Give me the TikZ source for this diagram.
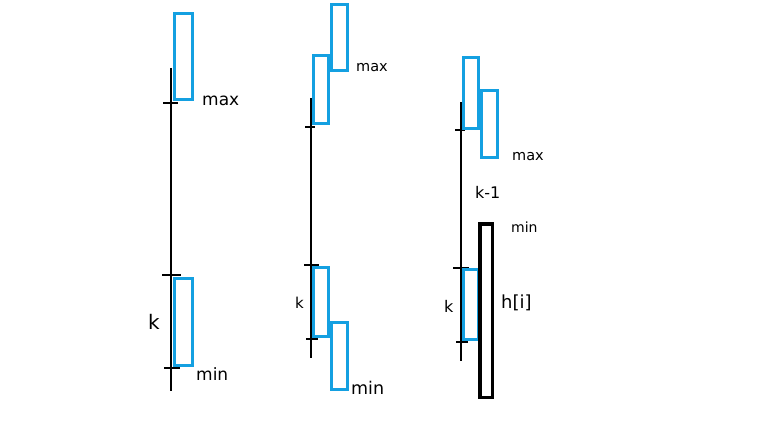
\documentclass[tikz,border=0pt]{standalone}
\usepackage{fontspec}
\setmainfont{DejaVu Sans}
\usetikzlibrary{positioning}
\definecolor{barblue}{RGB}{20,160,225}

\begin{document}
\begin{tikzpicture}[
    x=1pt, y=-1pt,
    axis/.style={draw=black, line width=2pt},
    tick/.style={draw=black, line width=2.8pt},
    bar/.style={draw=barblue, line width=3pt},
    hbar/.style={draw=black, line width=3.2pt},
    lbl/.style={inner sep=0pt, anchor=west},
    ]
\useasboundingbox (0,0) rectangle (768,430);

% first column
\draw[axis, line width=2.8pt] (171,68) -- (171,391);
\draw[tick] (163,103) -- (178,103);
\draw[tick] (162,275) -- (181,275);
\draw[tick] (164,368) -- (180,368);
\draw[bar] (174.5,14) rectangle (192,100);
\draw[bar] (174.5,279) rectangle (192,365);
\node[lbl, font=\fontsize{17}{17}\selectfont] (max1) at (202,101) {max};
\node[lbl, font=\fontsize{20}{20}\selectfont] (k1) at (148,322) {k};
\node[lbl, font=\fontsize{17}{17}\selectfont] (min1) at (196,374) {min};

% second column
\draw[axis] (310.7,98) -- (310.7,358);
\draw[tick] (305,127) -- (315,127);
\draw[tick] (304,265) -- (319,265);
\draw[tick] (306,339) -- (318,339);
\draw[bar] (313.5,56) rectangle (328.5,124);
\draw[bar] (331.5,4.5) rectangle (347.5,71);
\draw[bar] (313.5,267.5) rectangle (328.5,336);
\draw[bar] (331.5,322.5) rectangle (347.5,389);
\node[lbl, font=\fontsize{14.5}{14.5}\selectfont] (max2) at (356,68) {max};
\node[lbl, font=\fontsize{15}{15}\selectfont] (k2) at (295,303) {k};
\node[lbl, font=\fontsize{17.5}{17.5}\selectfont] (min2) at (351,388) {min};

% third column
\draw[axis] (460.7,102) -- (460.7,361);
\draw[tick] (455,130) -- (465,130);
\draw[tick] (453,268) -- (469,268);
\draw[tick] (456,342) -- (468,342);
\draw[bar] (463.5,58) rectangle (478.5,128.5);
\draw[bar] (481.5,91) rectangle (497.5,157.5);
\draw[bar] (463.5,270) rectangle (478.5,339.5);
\draw[hbar] (480,224) rectangle (492.5,397.5);
\node[lbl, font=\fontsize{14.5}{14.5}\selectfont] (max3) at (512,157) {max};
\node[lbl, font=\fontsize{16}{16}\selectfont] (km3) at (475,192) {k-1};
\node[lbl, font=\fontsize{14}{14}\selectfont] (min3) at (511,227) {min};
\node[lbl, font=\fontsize{16}{16}\selectfont] (k3) at (444,306) {k};
\node[lbl, font=\fontsize{18}{18}\selectfont] (h3) at (501,303) {h[i]};
\end{tikzpicture}
\end{document}
